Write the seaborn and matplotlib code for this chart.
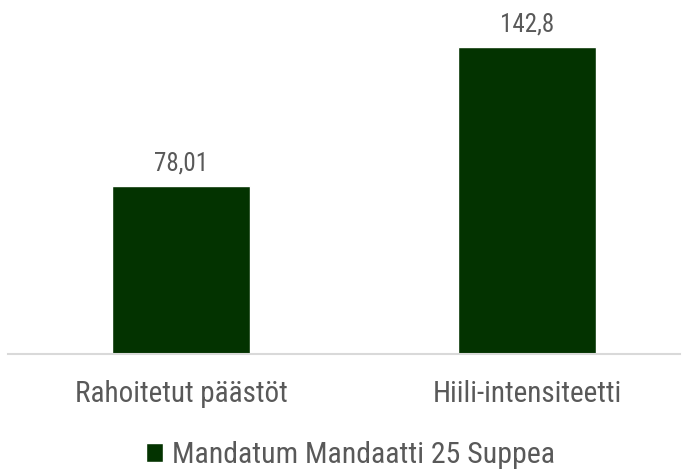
import pandas as pd
import seaborn as sns
from matplotlib import pyplot as plt
from matplotlib.patches import Patch

categories = ["Rahoitetut päästöt", "Hiili-intensiteetti"]
values = [78.01, 142.8]
value_labels = ["78,01", "142,8"]
series_name = "Mandatum Mandaatti 25 Suppea"

df = pd.DataFrame({"kategoria": categories, "arvo": values})

sns.set_style("white")
plt.rcParams["font.family"] = ["Roboto Condensed", "DejaVu Sans"]

bar_color = "#033300"
text_color = "#595959"

fig = plt.figure(figsize=(6.87, 4.70), dpi=100)
ax = fig.add_axes([0.0116, 0.2468, 0.978, 0.732])

sns.barplot(data=df, x="kategoria", y="arvo", color=bar_color,
            width=0.4, saturation=1, ax=ax)

# arvot palkkien päälle
for i, lab in enumerate(value_labels):
    ax.text(i, values[i] + 7.2, lab, ha="center", va="baseline",
            fontsize=18, color=text_color)

ax.set_xlim(-0.5, 1.442)
ax.set_ylim(0, 160)
ax.set_xlabel("")
ax.set_ylabel("")
ax.set_yticks([])
ax.tick_params(axis="x", length=0, pad=19, labelsize=21, labelcolor=text_color)
for s in ["top", "right", "left"]:
    ax.spines[s].set_visible(False)
ax.spines["bottom"].set_color("#d9d9d9")
ax.spines["bottom"].set_linewidth(1.5)

handle = Patch(facecolor=bar_color, label=series_name)
fig.legend(handles=[handle], loc="center", bbox_to_anchor=(0.51, 0.032),
           frameon=False, fontsize=21.5, labelcolor=text_color,
           handlelength=0.55, handleheight=0.6, handletextpad=0.3)

fig.savefig("out.png", dpi=100)
